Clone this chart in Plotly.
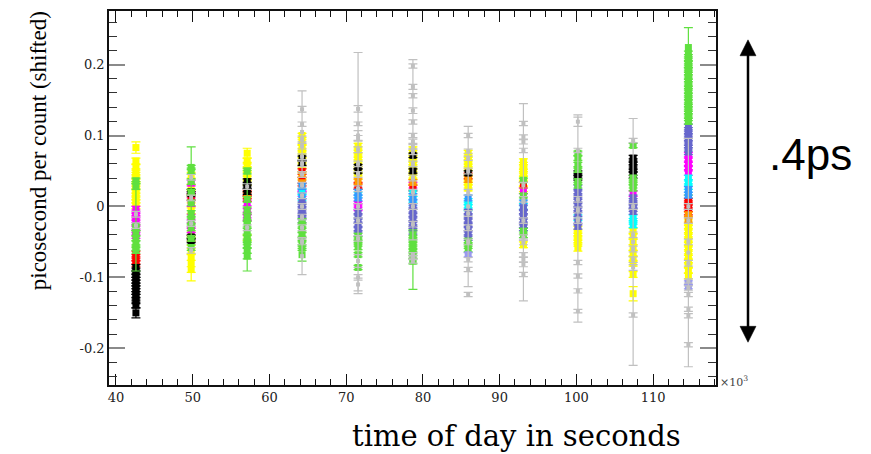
import plotly.graph_objects as go

# ---------------- data ----------------
bin_times = [42.6, 49.8, 57.1, 64.25, 71.55, 78.7, 85.9, 93.1, 100.2, 107.4, 114.6]

x_tick_vals = [40, 50, 60, 70, 80, 90, 100, 110]
x_tick_text = ["40", "50", "60", "70", "80", "90", "100", "110"]
y_tick_vals = [-0.2, -0.1, 0.0, 0.1, 0.2]
y_tick_text = ["-0.2", "-0.1", "0", "0.1", "0.2"]

# each point: (time bin index, value, error)
yellow_pts = [
    (0, 0.083, 0.008), (0, 0.064, 0.004), (0, 0.055, 0.004), (0, 0.049, 0.004), (0, 0.044, 0.004),
    (0, 0.039, 0.004), (0, 0.034, 0.004), (0, 0.029, 0.004), (0, 0.024, 0.004), (0, 0.019, 0.004),
    (0, 0.014, 0.004), (0, 0.009, 0.004), (0, 0.005, 0.004), (0, 0.001, 0.004),
    (1, 0.044, 0.004), (1, 0.027, 0.004), (1, 0.009, 0.004), (1, -0.006, 0.004), (1, -0.040, 0.004),
    (1, -0.063, 0.004), (1, -0.072, 0.004), (1, -0.080, 0.025), (1, -0.089, 0.004),
    (2, 0.075, 0.007), (2, 0.064, 0.004), (2, 0.058, 0.004), (2, 0.052, 0.004), (2, 0.046, 0.004),
    (2, 0.040, 0.004), (2, 0.034, 0.004), (2, -0.044, 0.004),
    (3, 0.100, 0.003), (3, 0.090, 0.004), (3, 0.083, 0.004), (3, 0.078, 0.004), (3, 0.073, 0.004),
    (3, 0.064, 0.004), (3, 0.058, 0.004), (3, 0.053, 0.004), (3, 0.043, 0.004),
    (4, 0.085, 0.004), (4, 0.080, 0.004), (4, 0.075, 0.004), (4, 0.070, 0.004), (4, 0.065, 0.004),
    (4, 0.060, 0.004), (4, 0.052, 0.004), (4, 0.047, 0.004), (4, 0.042, 0.004),
    (5, 0.080, 0.004), (5, 0.075, 0.004), (5, 0.068, 0.004), (5, 0.063, 0.004), (5, 0.058, 0.004),
    (5, 0.053, 0.004), (5, 0.048, 0.004), (5, 0.042, 0.004), (5, 0.036, 0.004),
    (6, 0.075, 0.004), (6, 0.070, 0.004), (6, 0.065, 0.004), (6, 0.060, 0.004), (6, 0.055, 0.004),
    (6, 0.050, 0.004), (6, 0.040, 0.004), (6, 0.035, 0.004), (6, 0.030, 0.004), (6, 0.026, 0.004),
    (7, 0.063, 0.004), (7, 0.058, 0.004), (7, 0.053, 0.004), (7, 0.048, 0.004), (7, 0.043, 0.004),
    (7, 0.038, 0.004), (7, 0.032, 0.004), (7, 0.025, 0.004), (7, -0.054, 0.004),
    (8, -0.032, 0.004), (8, -0.037, 0.004), (8, -0.042, 0.004), (8, -0.047, 0.004), (8, -0.052, 0.004),
    (8, -0.058, 0.005),
    (9, -0.035, 0.004), (9, -0.042, 0.004), (9, -0.050, 0.004), (9, -0.058, 0.004), (9, -0.066, 0.004),
    (9, -0.074, 0.004), (9, -0.080, 0.004), (9, -0.096, 0.004), (9, -0.123, 0.010),
    (10, -0.023, 0.004), (10, -0.029, 0.004), (10, -0.035, 0.004), (10, -0.041, 0.004), (10, -0.047, 0.004),
    (10, -0.053, 0.004), (10, -0.059, 0.004), (10, -0.065, 0.004), (10, -0.071, 0.004), (10, -0.077, 0.004),
    (10, -0.083, 0.004), (10, -0.090, 0.004), (10, -0.098, 0.004),
]

magenta_pts = [
    (0, -0.004, 0.004), (0, -0.009, 0.004), (0, -0.014, 0.004), (0, -0.019, 0.004), (0, -0.024, 0.004),
    (0, -0.030, 0.004), (0, -0.036, 0.004), (0, -0.041, 0.004),
    (1, 0.033, 0.004), (1, 0.016, 0.004), (1, 0.004, 0.004), (1, -0.015, 0.004), (1, -0.027, 0.004),
    (1, -0.033, 0.004),
    (2, 0.005, 0.004), (2, -0.007, 0.004), (2, -0.012, 0.004), (2, -0.016, 0.004),
    (3, 0.025, 0.004), (3, 0.018, 0.004),
    (4, 0.008, 0.004), (4, 0.003, 0.004), (4, -0.002, 0.004),
    (5, 0.030, 0.004), (7, 0.022, 0.004), (9, 0.018, 0.004),
    (10, 0.072, 0.004), (10, 0.066, 0.004), (10, 0.060, 0.004), (10, 0.054, 0.004), (10, 0.048, 0.004),
]

red_pts = [
    (0, -0.067, 0.004), (0, -0.072, 0.004), (0, -0.077, 0.004), (0, -0.081, 0.004),
    (1, 0.013, 0.004), (1, -0.045, 0.004),
    (2, 0.019, 0.004), (2, 0.015, 0.004), (2, 0.011, 0.004),
    (3, 0.049, 0.004), (3, 0.037, 0.004),
    (4, 0.030, 0.004), (4, 0.028, 0.004),
    (5, 0.026, 0.004), (6, 0.043, 0.004), (7, 0.030, 0.004),
    (10, 0.012, 0.004), (10, 0.007, 0.004), (10, 0.002, 0.004), (10, -0.003, 0.004), (10, -0.008, 0.004),
]

orange_pts = [
    (2, 0.017, 0.004), (3, 0.045, 0.004), (3, 0.033, 0.004), (4, 0.035, 0.004), (5, 0.034, 0.004),
    (6, 0.038, 0.004), (10, -0.012, 0.004), (10, -0.018, 0.004),
]

cyan_pts = [
    (3, 0.021, 0.004), (3, 0.012, 0.004), (4, 0.016, 0.004), (5, 0.018, 0.004), (5, 0.010, 0.004),
    (6, 0.007, 0.004), (6, 0.002, 0.004), (6, -0.002, 0.004), (7, 0.000, 0.004), (8, -0.016, 0.004),
    (9, -0.016, 0.004), (9, -0.021, 0.004), (9, -0.026, 0.004),
    (10, 0.040, 0.004), (10, 0.034, 0.004), (10, 0.028, 0.004), (10, 0.020, 0.004),
]

blue_pts = [
    (3, 0.015, 0.004), (3, 0.028, 0.004), (4, 0.020, 0.004), (4, 0.012, 0.004), (5, 0.014, 0.004),
    (5, 0.005, 0.004), (6, 0.012, 0.004), (7, 0.005, 0.004), (10, 0.024, 0.004), (10, 0.016, 0.004),
]

slate_pts = [
    (3, 0.007, 0.004), (3, 0.002, 0.004), (3, -0.004, 0.004), (3, -0.009, 0.004), (3, -0.014, 0.004),
    (3, -0.019, 0.004),
    (4, -0.008, 0.004), (4, -0.014, 0.004), (4, -0.020, 0.004), (4, -0.026, 0.004), (4, -0.032, 0.004),
    (4, -0.038, 0.004),
    (5, 0.000, 0.004), (5, -0.006, 0.004), (5, -0.012, 0.004), (5, -0.018, 0.004), (5, -0.024, 0.004),
    (5, -0.030, 0.004), (5, -0.035, 0.004),
    (6, -0.008, 0.004), (6, -0.014, 0.004), (6, -0.020, 0.004), (6, -0.026, 0.004), (6, -0.032, 0.004),
    (6, -0.038, 0.004), (6, -0.044, 0.004),
    (7, -0.002, 0.004), (7, -0.008, 0.004), (7, -0.014, 0.004), (7, -0.020, 0.004), (7, -0.026, 0.004),
    (7, -0.030, 0.004),
    (8, 0.026, 0.004), (8, 0.020, 0.004), (8, 0.014, 0.004), (8, 0.008, 0.004), (8, 0.002, 0.004),
    (8, -0.004, 0.004), (8, -0.010, 0.004), (8, -0.022, 0.004), (8, -0.028, 0.004),
    (9, 0.012, 0.004), (9, 0.007, 0.004), (9, 0.002, 0.004), (9, -0.003, 0.004), (9, -0.007, 0.004),
    (10, 0.112, 0.004), (10, 0.107, 0.004), (10, 0.102, 0.004), (10, 0.097, 0.004), (10, 0.092, 0.004),
    (10, 0.087, 0.004), (10, 0.082, 0.004), (10, 0.077, 0.004),
]

black_pts = [
    (0, -0.086, 0.004), (0, -0.091, 0.004), (0, -0.096, 0.004), (0, -0.100, 0.004), (0, -0.104, 0.004),
    (0, -0.108, 0.004), (0, -0.112, 0.004), (0, -0.116, 0.004), (0, -0.120, 0.004), (0, -0.124, 0.004),
    (0, -0.128, 0.004), (0, -0.133, 0.004), (0, -0.139, 0.004), (0, -0.150, 0.007),
    (1, 0.021, 0.003), (1, 0.018, 0.003), (1, -0.043, 0.003), (1, -0.048, 0.003),
    (2, 0.035, 0.004), (2, 0.030, 0.004), (2, 0.025, 0.004), (2, 0.021, 0.004),
    (3, 0.068, 0.003), (3, 0.061, 0.003), (4, 0.056, 0.003), (4, 0.050, 0.003),
    (5, 0.072, 0.003), (5, 0.050, 0.003), (6, 0.047, 0.003),
    (8, 0.047, 0.003), (8, 0.043, 0.003), (8, 0.040, 0.003),
    (9, 0.068, 0.004), (9, 0.063, 0.004), (9, 0.058, 0.004), (9, 0.053, 0.004), (9, 0.048, 0.004),
    (9, 0.044, 0.004),
]

green_pts = [
    (0, -0.028, 0.063), (0, 0.036, 0.004), (0, 0.028, 0.004), (0, -0.030, 0.004), (0, -0.038, 0.004),
    (0, -0.045, 0.004), (0, -0.052, 0.004), (0, -0.058, 0.004), (0, -0.062, 0.004),
    (1, 0.020, 0.064), (1, 0.055, 0.003), (1, 0.050, 0.004), (1, 0.035, 0.004), (1, 0.020, 0.004),
    (1, 0.005, 0.004), (1, -0.010, 0.004), (1, -0.020, 0.004), (1, -0.030, 0.004), (1, -0.045, 0.004),
    (1, -0.058, 0.004),
    (2, -0.020, 0.071), (2, 0.050, 0.004), (2, 0.010, 0.004), (2, -0.005, 0.004), (2, -0.015, 0.004),
    (2, -0.025, 0.004), (2, -0.035, 0.004), (2, -0.045, 0.004), (2, -0.050, 0.004), (2, -0.055, 0.004),
    (2, -0.062, 0.004), (2, -0.070, 0.004),
    (3, -0.021, 0.004), (3, -0.027, 0.004), (3, -0.033, 0.004), (3, -0.040, 0.004), (3, -0.046, 0.004),
    (3, -0.052, 0.004), (3, -0.058, 0.004), (3, -0.068, 0.009),
    (4, -0.042, 0.004), (4, -0.047, 0.004), (4, -0.052, 0.004), (4, -0.057, 0.004), (4, -0.068, 0.003),
    (4, -0.086, 0.003),
    (5, -0.075, 0.042), (5, -0.040, 0.004), (5, -0.045, 0.004), (5, -0.050, 0.004), (5, -0.055, 0.004),
    (5, -0.060, 0.004), (5, -0.065, 0.004), (5, -0.070, 0.004), (5, -0.077, 0.004),
    (6, -0.049, 0.004), (6, -0.055, 0.004), (6, -0.060, 0.004),
    (7, 0.037, 0.003), (7, 0.015, 0.003), (7, -0.035, 0.004), (7, -0.040, 0.004),
    (8, 0.075, 0.003), (8, 0.068, 0.003), (8, 0.058, 0.004), (8, 0.052, 0.004), (8, 0.035, 0.004),
    (8, 0.030, 0.004),
    (9, 0.086, 0.003), (9, 0.040, 0.004), (9, 0.035, 0.004), (9, 0.030, 0.004), (9, 0.026, 0.004),
    (10, 0.224, 0.028), (10, 0.215, 0.004), (10, 0.210, 0.004), (10, 0.205, 0.004), (10, 0.200, 0.004),
    (10, 0.195, 0.004), (10, 0.190, 0.004), (10, 0.185, 0.004), (10, 0.180, 0.004), (10, 0.175, 0.004),
    (10, 0.170, 0.004), (10, 0.165, 0.004), (10, 0.160, 0.004), (10, 0.155, 0.004), (10, 0.150, 0.004),
    (10, 0.145, 0.004), (10, 0.140, 0.004), (10, 0.135, 0.004), (10, 0.130, 0.004), (10, 0.125, 0.004),
    (10, 0.120, 0.004),
]

lavender_pts = [(6, -0.068, 0.003), (10, -0.108, 0.003), (10, -0.113, 0.003)]

grey_pts = [
    (0, -0.011, 0.004), (0, -0.027, 0.004),
    (1, 0.041, 0.004), (1, 0.012, 0.004), (1, -0.024, 0.004), (1, -0.062, 0.004),
    (2, 0.028, 0.004), (2, -0.030, 0.004),
    (3, 0.105, 0.058), (3, 0.137, 0.004), (3, 0.116, 0.003), (3, 0.095, 0.004), (3, 0.085, 0.004),
    (3, 0.070, 0.004), (3, 0.060, 0.004), (3, 0.045, 0.004), (3, 0.030, 0.004), (3, 0.015, 0.004),
    (3, 0.000, 0.004), (3, -0.015, 0.004), (3, -0.030, 0.004), (3, -0.050, 0.004), (3, -0.070, 0.026),
    (4, 0.047, 0.170), (4, 0.1375, 0.0045), (4, 0.1165, 0.0025), (4, 0.100, 0.007), (4, 0.096, 0.004),
    (4, 0.080, 0.004), (4, 0.060, 0.004), (4, 0.045, 0.004), (4, 0.025, 0.004), (4, 0.000, 0.004),
    (4, -0.020, 0.004), (4, -0.045, 0.004), (4, -0.077, 0.009), (4, -0.100, 0.004), (4, -0.110, 0.009),
    (5, 0.080, 0.127), (5, 0.198, 0.003), (5, 0.1685, 0.0035), (5, 0.156, 0.003), (5, 0.135, 0.004),
    (5, 0.119, 0.003), (5, 0.100, 0.003), (5, 0.091, 0.004), (5, 0.085, 0.004), (5, 0.077, 0.004),
    (5, 0.060, 0.004), (5, 0.040, 0.004), (5, 0.020, 0.004), (5, 0.000, 0.004), (5, -0.025, 0.004),
    (5, -0.068, 0.003), (5, -0.072, 0.003), (5, -0.077, 0.003),
    (6, 0.000, 0.113), (6, 0.100, 0.003), (6, 0.078, 0.003), (6, 0.068, 0.003), (6, 0.050, 0.004),
    (6, 0.020, 0.004), (6, -0.010, 0.004), (6, -0.030, 0.004), (6, -0.050, 0.004), (6, -0.075, 0.003),
    (6, -0.089, 0.003), (6, -0.124, 0.003),
    (7, 0.006, 0.139), (7, 0.117, 0.003), (7, 0.098, 0.003), (7, 0.091, 0.003), (7, 0.079, 0.003),
    (7, 0.030, 0.004), (7, 0.010, 0.004), (7, -0.020, 0.004), (7, -0.044, 0.004), (7, -0.050, 0.004),
    (7, -0.068, 0.003), (7, -0.075, 0.003), (7, -0.082, 0.003), (7, -0.096, 0.003),
    (8, -0.017, 0.146), (8, 0.1195, 0.0065), (8, 0.079, 0.003), (8, 0.010, 0.004), (8, -0.005, 0.004),
    (8, -0.020, 0.004), (8, -0.079, 0.003), (8, -0.098, 0.003), (8, -0.119, 0.003), (8, -0.1475, 0.0025),
    (9, -0.050, 0.174), (9, 0.093, 0.003), (9, 0.000, 0.004), (9, -0.040, 0.004), (9, -0.060, 0.004),
    (9, -0.075, 0.004), (9, -0.086, 0.004), (9, -0.153, 0.003),
    (10, -0.065, 0.161), (10, -0.195, 0.003), (10, -0.145, 0.003), (10, -0.154, 0.003), (10, -0.105, 0.003),
    (10, -0.115, 0.003), (10, -0.124, 0.003), (10, -0.020, 0.004), (10, -0.050, 0.004), (10, -0.080, 0.004),
    (10, 0.000, 0.004),
]

# (name, colour, points, marker size); grey drawn last with smaller markers
series = [
    ("yellow", "#ffff00", yellow_pts, 7),
    ("magenta", "#ff00ff", magenta_pts, 7),
    ("red", "#ff0000", red_pts, 7),
    ("orange", "#ff9900", orange_pts, 7),
    ("cyan", "#00ffff", cyan_pts, 7),
    ("blue", "#3399ff", blue_pts, 7),
    ("slate", "#6666cc", slate_pts, 7),
    ("black", "#000000", black_pts, 7),
    ("green", "#5fe03f", green_pts, 7),
    ("lavender", "#9999ee", lavender_pts, 7),
    ("grey", "#c0c0c0", grey_pts, 4),
]

# ---------------- layout geometry (page pixels; page body has an 8px margin) ----------------
OFF = 8
W, H = 871 - 2 * OFF, 454 - OFF
L, R, T, B = 109, 716, 9, 385  # plot frame in page pixels


def px(x):
    return (x - L) / (R - L)


def py(y):
    return (B - y) / (B - T)


fig = go.Figure()
for name, color, pts, msize in series:
    fig.add_trace(go.Scatter(
        x=[bin_times[b] for b, _, _ in pts],
        y=[v for _, v, _ in pts],
        mode="markers",
        name=name,
        marker=dict(symbol="square", size=msize, color=color, line=dict(width=0)),
        error_y=dict(type="data", array=[e for _, _, e in pts], color=color,
                     thickness=1.2, width=4.5),
        showlegend=False,
        hoverinfo="skip",
    ))

tickfont = dict(family="DejaVu Serif", size=13, color="#222222")

fig.update_layout(
    width=W, height=H,
    margin=dict(l=L - OFF, r=(W + OFF) - R, t=T - OFF, b=(H + OFF) - B, pad=0),
    paper_bgcolor="white", plot_bgcolor="white",
    showlegend=False,
    hovermode=False,
    xaxis=dict(
        range=[39.09, 118.2],
        tickmode="array", tickvals=x_tick_vals, ticktext=x_tick_text,
        ticks="inside", ticklen=11, tickwidth=1, tickcolor="#111111",
        minor=dict(tickmode="linear", tick0=40, dtick=2, ticks="inside",
                   ticklen=6, tickwidth=1, tickcolor="#111111"),
        showline=True, linecolor="#111111", linewidth=1.5, mirror="allticks",
        showgrid=False, zeroline=False, tickfont=tickfont,
    ),
    yaxis=dict(
        range=[-0.2517, 0.2755],
        tickmode="array", tickvals=y_tick_vals, ticktext=y_tick_text,
        ticks="inside", ticklen=16, tickwidth=1.5, tickcolor="#8a8a8a",
        minor=dict(tickmode="linear", tick0=0, dtick=0.02, ticks="inside",
                   ticklen=8, tickwidth=1, tickcolor="#333333"),
        showline=True, linecolor="#111111", linewidth=1.5, mirror="allticks",
        showgrid=False, zeroline=False, tickfont=tickfont,
    ),
)

# double-headed arrow with ".4ps"
ax = px(748)
fig.add_shape(type="line", xref="paper", yref="paper",
              x0=ax, x1=ax, y0=py(50), y1=py(330),
              line=dict(color="black", width=2.5))
fig.add_shape(type="path", xref="paper", yref="paper",
              path=f"M {px(748)},{py(38)} L {px(740)},{py(54)} L {px(756)},{py(54)} Z",
              fillcolor="black", line=dict(color="black", width=0.5))
fig.add_shape(type="path", xref="paper", yref="paper",
              path=f"M {px(748)},{py(342)} L {px(740)},{py(326)} L {px(756)},{py(326)} Z",
              fillcolor="black", line=dict(color="black", width=0.5))

fig.add_annotation(text=".4ps", xref="paper", yref="paper", x=px(810), y=py(153),
                   showarrow=False, xanchor="center", yanchor="middle",
                   font=dict(family="Liberation Sans", size=44, color="black"))

fig.add_annotation(text="picosecond per count (shifted)", xref="paper", yref="paper",
                   x=px(38), y=py(150), textangle=-90, showarrow=False,
                   xanchor="center", yanchor="middle",
                   font=dict(family="Liberation Serif", size=23, color="black"))

fig.add_annotation(text="time of day in seconds", xref="paper", yref="paper",
                   x=px(516), y=py(436), showarrow=False,
                   xanchor="center", yanchor="middle",
                   font=dict(family="DejaVu Serif", size=29, color="black"))

fig.add_annotation(text="×10<sup>3</sup>", xref="paper", yref="paper",
                   x=px(718), y=py(381), showarrow=False,
                   xanchor="left", yanchor="middle",
                   font=dict(family="DejaVu Serif", size=11, color="#444444"))

fig.write_html("out.html", config={"displayModeBar": False},
               post_script="document.body.style.overflow='hidden';"
                           "document.documentElement.style.overflow='hidden';")
